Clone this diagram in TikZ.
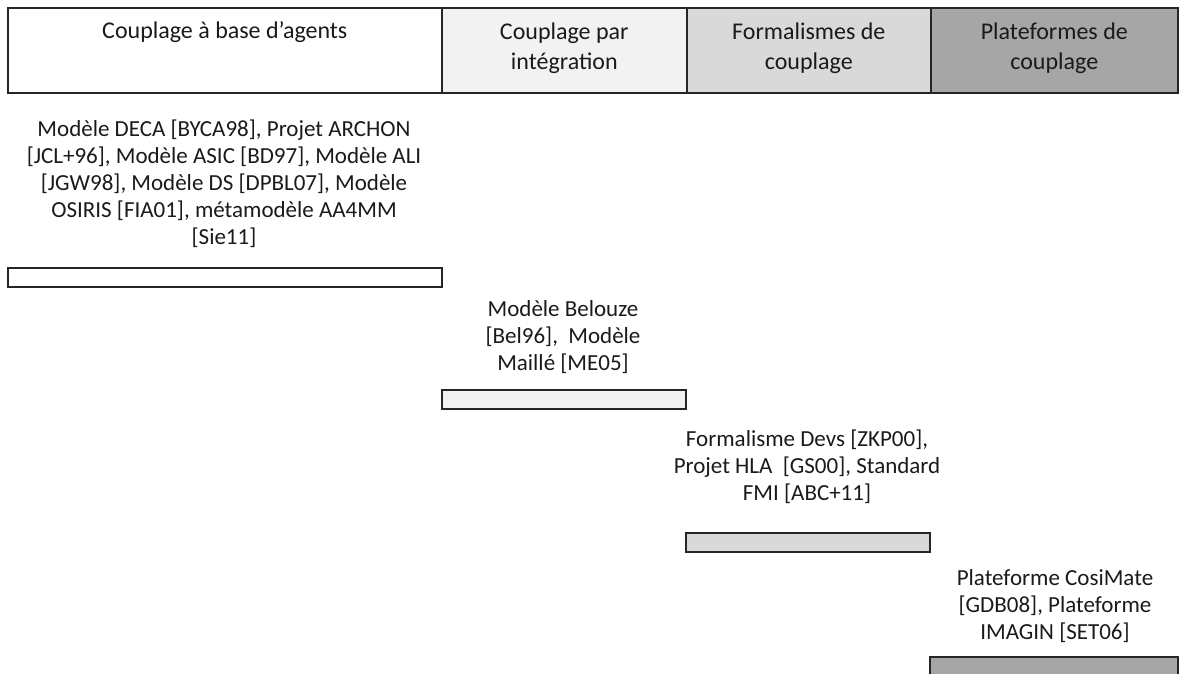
\documentclass[tikz,border=0pt]{standalone}
\usepackage{fontspec}
\setmainfont{Carlito}
\definecolor{cA}{HTML}{FFFFFF}
\definecolor{cB}{HTML}{F2F2F2}
\definecolor{cC}{HTML}{D9D9D9}
\definecolor{cD}{HTML}{A6A6A6}
\definecolor{ln}{HTML}{262626}
\definecolor{tx}{HTML}{1A1A1A}
\begin{document}
\begin{tikzpicture}[x=1pt,y=-1pt,
  cell/.style={draw=ln,line width=1.6pt,anchor=north west,inner sep=0pt},
  bar/.style={draw=ln,line width=1.6pt,anchor=north west,inner sep=0pt,minimum height=19pt},
  htext/.style={anchor=north,align=center,inner sep=0pt,text=tx,font=\fontsize{24}{30}\selectfont},
  btext/.style={anchor=north,align=center,inner sep=0pt,text=tx,font=\fontsize{23}{27}\selectfont}]
\useasboundingbox (0,0) rectangle (1184,673);
\begin{scope}
\clip (0,0) rectangle (1184,673);
% header cells
\node[cell,fill=cA,minimum width=434pt,minimum height=85pt] (c1) at (7,7) {};
\node[cell,fill=cB,minimum width=245pt,minimum height=85pt] (c2) at (441,7) {};
\node[cell,fill=cC,minimum width=244pt,minimum height=85pt] (c3) at (686,7) {};
\node[cell,fill=cD,minimum width=247pt,minimum height=85pt] (c4) at (930,7) {};
\node[htext] (t1) at ([yshift=-14pt]c1.north) {Couplage à base d’agents};
\node[htext] (t2) at ([yshift=-16pt]c2.north) {Couplage par\\intégration};
\node[htext] (t3) at ([yshift=-16pt]c3.north) {Formalismes de\\couplage};
\node[htext] (t4) at ([yshift=-16pt]c4.north) {Plateformes de\\couplage};
% bars
\node[bar,fill=cA,minimum width=434pt] (b1) at (7,267) {};
\node[bar,fill=cB,minimum width=244pt] (b2) at (441,389) {};
\node[bar,fill=cC,minimum width=244pt] (b3) at (685,532) {};
\node[bar,fill=cD,minimum width=248pt] (b4) at (929,656) {};
% descriptions
\node[btext] (d1) at (224,120) {Modèle DECA [BYCA98], Projet ARCHON\\{}[JCL+96], Modèle ASIC [BD97], Modèle ALI\\{}[JGW98], Modèle DS [DPBL07], Modèle\\OSIRIS [FIA01], métamodèle AA4MM\\{}[Sie11]};
\node[btext] (d2) at (563,300) {Modèle Belouze\\{}[Bel96],~ Modèle\\Maillé [ME05]};
\node[btext] (d3) at (807,430) {Formalisme Devs [ZKP00],\\Projet HLA~ [GS00], Standard\\FMI [ABC+11]};
\node[btext] (d4) at (1055,569) {Plateforme CosiMate\\{}[GDB08], Plateforme\\IMAGIN [SET06]};
\end{scope}
\end{tikzpicture}
\end{document}
